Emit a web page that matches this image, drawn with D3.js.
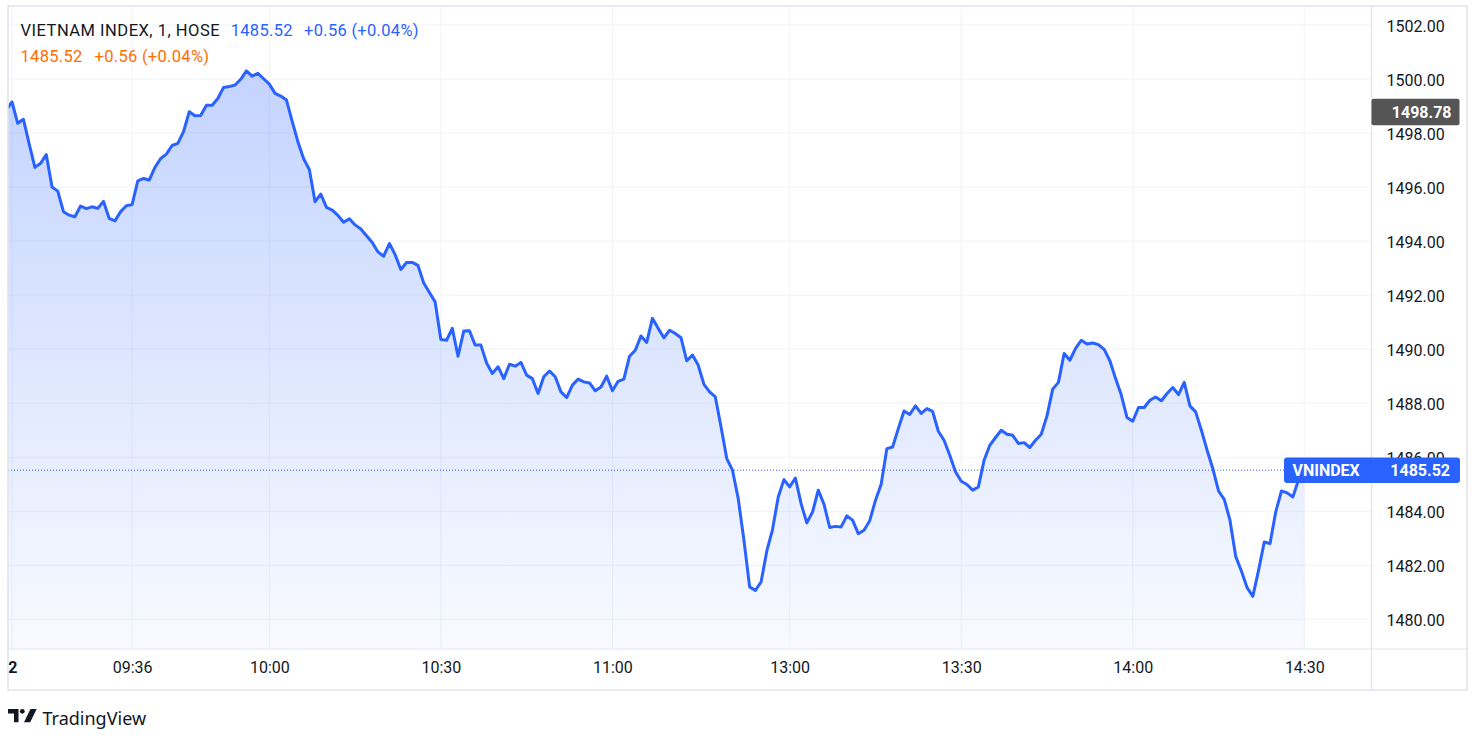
<!DOCTYPE html>
<html><head><meta charset="utf-8">
<script src="https://cdn.jsdelivr.net/npm/d3@7"></script>
<style>
body{margin:0;background:#fff;}
svg{display:block;font-family:Roboto,"Noto Sans",sans-serif;}
</style>
</head><body>
<svg id="c" width="1482" height="744"></svg>
<script>
// ---- data ----
const sessions = [["09:14","11:30"],["13:00","14:30"]];
const values = [
1498.85,1499.15,1498.36,1498.51,1497.60,1496.73,1496.88,1497.20,1496.00,1495.85,
1495.09,1494.96,1494.90,1495.30,1495.20,1495.27,1495.21,1495.47,1494.84,1494.75,
1495.09,1495.31,1495.35,1496.23,1496.32,1496.26,1496.73,1497.06,1497.22,1497.54,
1497.62,1498.05,1498.79,1498.64,1498.65,1499.03,1499.03,1499.28,1499.69,1499.72,
1499.78,1499.99,1500.30,1500.11,1500.21,1500.01,1499.81,1499.47,1499.37,1499.22,
1498.43,1497.68,1497.05,1496.65,1495.46,1495.74,1495.25,1495.15,1494.95,1494.70,
1494.83,1494.60,1494.45,1494.20,1493.95,1493.60,1493.44,1493.91,1493.50,1492.95,
1493.21,1493.21,1493.10,1492.45,1492.10,1491.75,1490.36,1490.33,1490.77,1489.74,
1490.67,1490.68,1490.15,1490.15,1489.49,1489.10,1489.35,1488.91,1489.44,1489.37,
1489.51,1489.04,1488.91,1488.36,1488.98,1489.19,1488.98,1488.42,1488.21,1488.67,
1488.89,1488.79,1488.75,1488.46,1488.60,1489.00,1488.46,1488.81,1488.89,1489.74,
1489.96,1490.49,1490.25,1491.14,1490.77,1490.42,1490.70,1490.58,1490.42,1489.57,
1489.78,1489.41,1488.70,1488.42,1488.23,1487.12,1485.95,1485.52,1484.47,1482.93,
1481.20,1481.07,1481.38,1482.53,1483.32,1484.53,1485.17,1484.90,1485.23,1484.28,
1483.57,1483.97,1484.78,1484.26,1483.40,1483.44,1483.42,1483.83,1483.67,1483.17,
1483.30,1483.65,1484.40,1485.00,1486.32,1486.38,1487.06,1487.71,1487.58,1487.90,
1487.62,1487.80,1487.70,1486.96,1486.63,1486.07,1485.46,1485.11,1484.99,1484.78,
1484.90,1485.89,1486.44,1486.73,1487.00,1486.85,1486.81,1486.51,1486.54,1486.36,
1486.63,1486.85,1487.53,1488.52,1488.77,1489.84,1489.59,1490.03,1490.33,1490.19,
1490.23,1490.17,1489.99,1489.57,1488.91,1488.30,1487.47,1487.33,1487.84,1487.84,
1488.11,1488.23,1488.09,1488.36,1488.58,1488.32,1488.77,1487.90,1487.68,1487.00,
1486.26,1485.58,1484.75,1484.44,1483.67,1482.33,1481.79,1481.17,1480.85,1481.81,
1482.86,1482.80,1483.97,1484.75,1484.68,1484.53,1485.17,1485.52
];
const yTicks = [1480,1482,1484,1486,1488,1490,1492,1494,1496,1498,1500,1502];
const xTickTimes  = ["09:15","09:36","10:00","10:30","11:00","13:00","13:30","14:00","14:30"];
const xTickLabels = ["22","09:36","10:00","10:30","11:00","13:00","13:30","14:00","14:30"];
const symbolTitle = "VIETNAM INDEX, 1, HOSE";
const lastPrice = 1485.52, change = "+0.56 (+0.04%)";
const markPrice = 1498.78;
const seriesName = "VNINDEX";

// ---- build minute labels ----
const toMin = s => { const [h,m]=s.split(":").map(Number); return h*60+m; };
const fmt = m => String(Math.floor(m/60)).padStart(2,"0")+":"+String(m%60).padStart(2,"0");
const times = [];
sessions.forEach(([a,b]) => { for (let m=toMin(a); m<=toMin(b); m++) times.push(fmt(m)); });
const data = values.map((v,i)=>({t:times[i], i, v}));

// ---- layout ----
const frame = {l:8, t:6, r:1467, b:690};
const plot = {l:8, t:7, r:1371.5, b:649};
const svg = d3.select("#c");

const x = d3.scaleLinear().domain([1,227]).range([12,1304.3]);
const y = d3.scaleLinear().domain([1480,1502]).range([619.3,25]);
const idx = t => times.indexOf(t);

// gradient / clips
const defs = svg.append("defs");
const g = defs.append("linearGradient").attr("id","ag")
  .attr("gradientUnits","userSpaceOnUse").attr("x1",0).attr("x2",0).attr("y1",plot.t).attr("y2",plot.b);
g.append("stop").attr("offset","0%").attr("stop-color","rgba(41,98,255,0.30)");
g.append("stop").attr("offset","100%").attr("stop-color","rgba(41,98,255,0.03)");
defs.append("clipPath").attr("id","pc").append("rect")
  .attr("x",plot.l).attr("y",plot.t).attr("width",plot.r-plot.l).attr("height",plot.b-plot.t);
defs.append("clipPath").attr("id","tc").append("rect")
  .attr("x",plot.l+0.5).attr("y",plot.b).attr("width",plot.r-plot.l).attr("height",frame.b-plot.b);

// grid
const grid = svg.append("g");
grid.selectAll("line.h").data(yTicks).join("line")
  .attr("x1",plot.l).attr("x2",plot.r).attr("y1",d=>y(d)).attr("y2",d=>y(d))
  .attr("stroke","#f0f3fa").attr("stroke-width",1);
grid.selectAll("line.v").data(xTickTimes).join("line")
  .attr("x1",d=>x(idx(d))).attr("x2",d=>x(idx(d))).attr("y1",plot.t).attr("y2",plot.b)
  .attr("stroke","#f0f3fa").attr("stroke-width",1);

// area + line
const pg = svg.append("g").attr("clip-path","url(#pc)");
pg.append("path").datum(data)
  .attr("d", d3.area().x(d=>x(d.i)).y0(plot.b).y1(d=>y(d.v)))
  .attr("fill","url(#ag)");
pg.append("path").datum(data)
  .attr("d", d3.line().x(d=>x(d.i)).y(d=>y(d.v)))
  .attr("fill","none").attr("stroke","#2962ff").attr("stroke-width",3)
  .attr("stroke-linejoin","round").attr("stroke-linecap","round");

// last price dotted line
pg.append("line").attr("x1",plot.l).attr("x2",plot.r).attr("y1",y(lastPrice)).attr("y2",y(lastPrice))
  .attr("stroke","#2962ff").attr("stroke-width",1).attr("stroke-dasharray","1,2");

// frame & separators
const fr = svg.append("g").attr("fill","none").attr("stroke","#e0e3eb");
fr.append("rect").attr("x",frame.l).attr("y",frame.t).attr("width",frame.r-frame.l).attr("height",frame.b-frame.t).attr("stroke-width",1.5);
fr.append("line").attr("x1",frame.l).attr("x2",frame.r).attr("y1",plot.b).attr("y2",plot.b).attr("stroke-width",1.2);
fr.append("line").attr("x1",plot.r).attr("x2",plot.r).attr("y1",frame.t).attr("y2",frame.b).attr("stroke-width",1.2);

// y axis
const ya = svg.append("g").attr("transform",`translate(${plot.r},0)`)
  .call(d3.axisRight(y).tickValues(yTicks).tickSize(0).tickPadding(15).tickFormat(d=>d.toFixed(2)));
ya.select(".domain").remove();
ya.selectAll("text").attr("font-size",16).attr("fill","#131722").attr("font-family","Roboto,sans-serif").attr("dy","0.38em");

// x axis (outer group clips, inner group is translated)
const xaOuter = svg.append("g").attr("clip-path","url(#tc)");
const xa = xaOuter.append("g").attr("transform",`translate(0,${plot.b})`)
  .call(d3.axisBottom(x).tickValues(xTickTimes.map(idx)).tickSize(0).tickPadding(13)
    .tickFormat((d,i)=>xTickLabels[i]));
xa.select(".domain").remove();
xa.selectAll("text").attr("font-size",16).attr("fill","#131722").attr("font-family","Roboto,sans-serif")
  .attr("font-weight",(d,i)=>i===0?"bold":"normal")
  .attr("text-anchor",(d,i)=>i===0?"end":"middle")
  .attr("dx",(d,i)=>i===0?5:0);

// price labels
const ml = svg.append("g");
ml.append("rect").attr("x",plot.r).attr("y",y(markPrice)-13.2).attr("width",88).attr("height",26.4)
  .attr("rx",2).attr("fill","#555555");
ml.append("text").attr("x",plot.r+80).attr("y",y(markPrice)+6).attr("text-anchor","end")
  .attr("font-size",16).attr("font-weight","bold").attr("fill","#fff").text(markPrice.toFixed(2));

const bl = svg.append("g");
bl.append("rect").attr("x",1284).attr("y",y(lastPrice)-12.8).attr("width",176).attr("height",25.6)
  .attr("rx",3).attr("fill","#2962ff");
bl.append("text").attr("x",1292.5).attr("y",y(lastPrice)+6).attr("font-size",16).attr("font-weight","bold")
  .attr("fill","#fff").text(seriesName);
bl.append("text").attr("x",1450).attr("y",y(lastPrice)+6).attr("text-anchor","end").attr("font-size",16)
  .attr("font-weight","bold").attr("fill","#fff").text(lastPrice.toFixed(2));

// legend
const lg = svg.append("g").attr("font-size",16.5);
lg.append("text").attr("x",20.5).attr("y",35.5).attr("fill","#131722").attr("letter-spacing",0.5).text(symbolTitle);
lg.append("text").attr("x",230.7).attr("y",35.5).attr("fill","#2962ff").attr("letter-spacing",0.3).text(lastPrice.toFixed(2));
lg.append("text").attr("x",304).attr("y",35.5).attr("fill","#2962ff").attr("letter-spacing",0.3).text(change);
lg.append("text").attr("x",20.5).attr("y",62).attr("fill","#ff6d00").attr("letter-spacing",0.3).text(lastPrice.toFixed(2));
lg.append("text").attr("x",94.5).attr("y",62).attr("fill","#ff6d00").attr("letter-spacing",0.3).text(change);

// TradingView logo
const logo = svg.append("g").attr("fill","#131722");
logo.append("path").attr("d","M8,709 H18.5 V722.3 H14 V713.5 H8 Z");
logo.append("circle").attr("cx",22.3).attr("cy",711.3).attr("r",2.4);
logo.append("path").attr("d","M30.5,709 H36.7 L30.2,722.3 H24 Z");
svg.append("text").attr("x",42.5).attr("y",724.5).attr("font-size",18).attr("fill","#131722")
  .attr("font-family","'Noto Sans',Roboto,sans-serif").text("TradingView");
</script>
</body></html>
